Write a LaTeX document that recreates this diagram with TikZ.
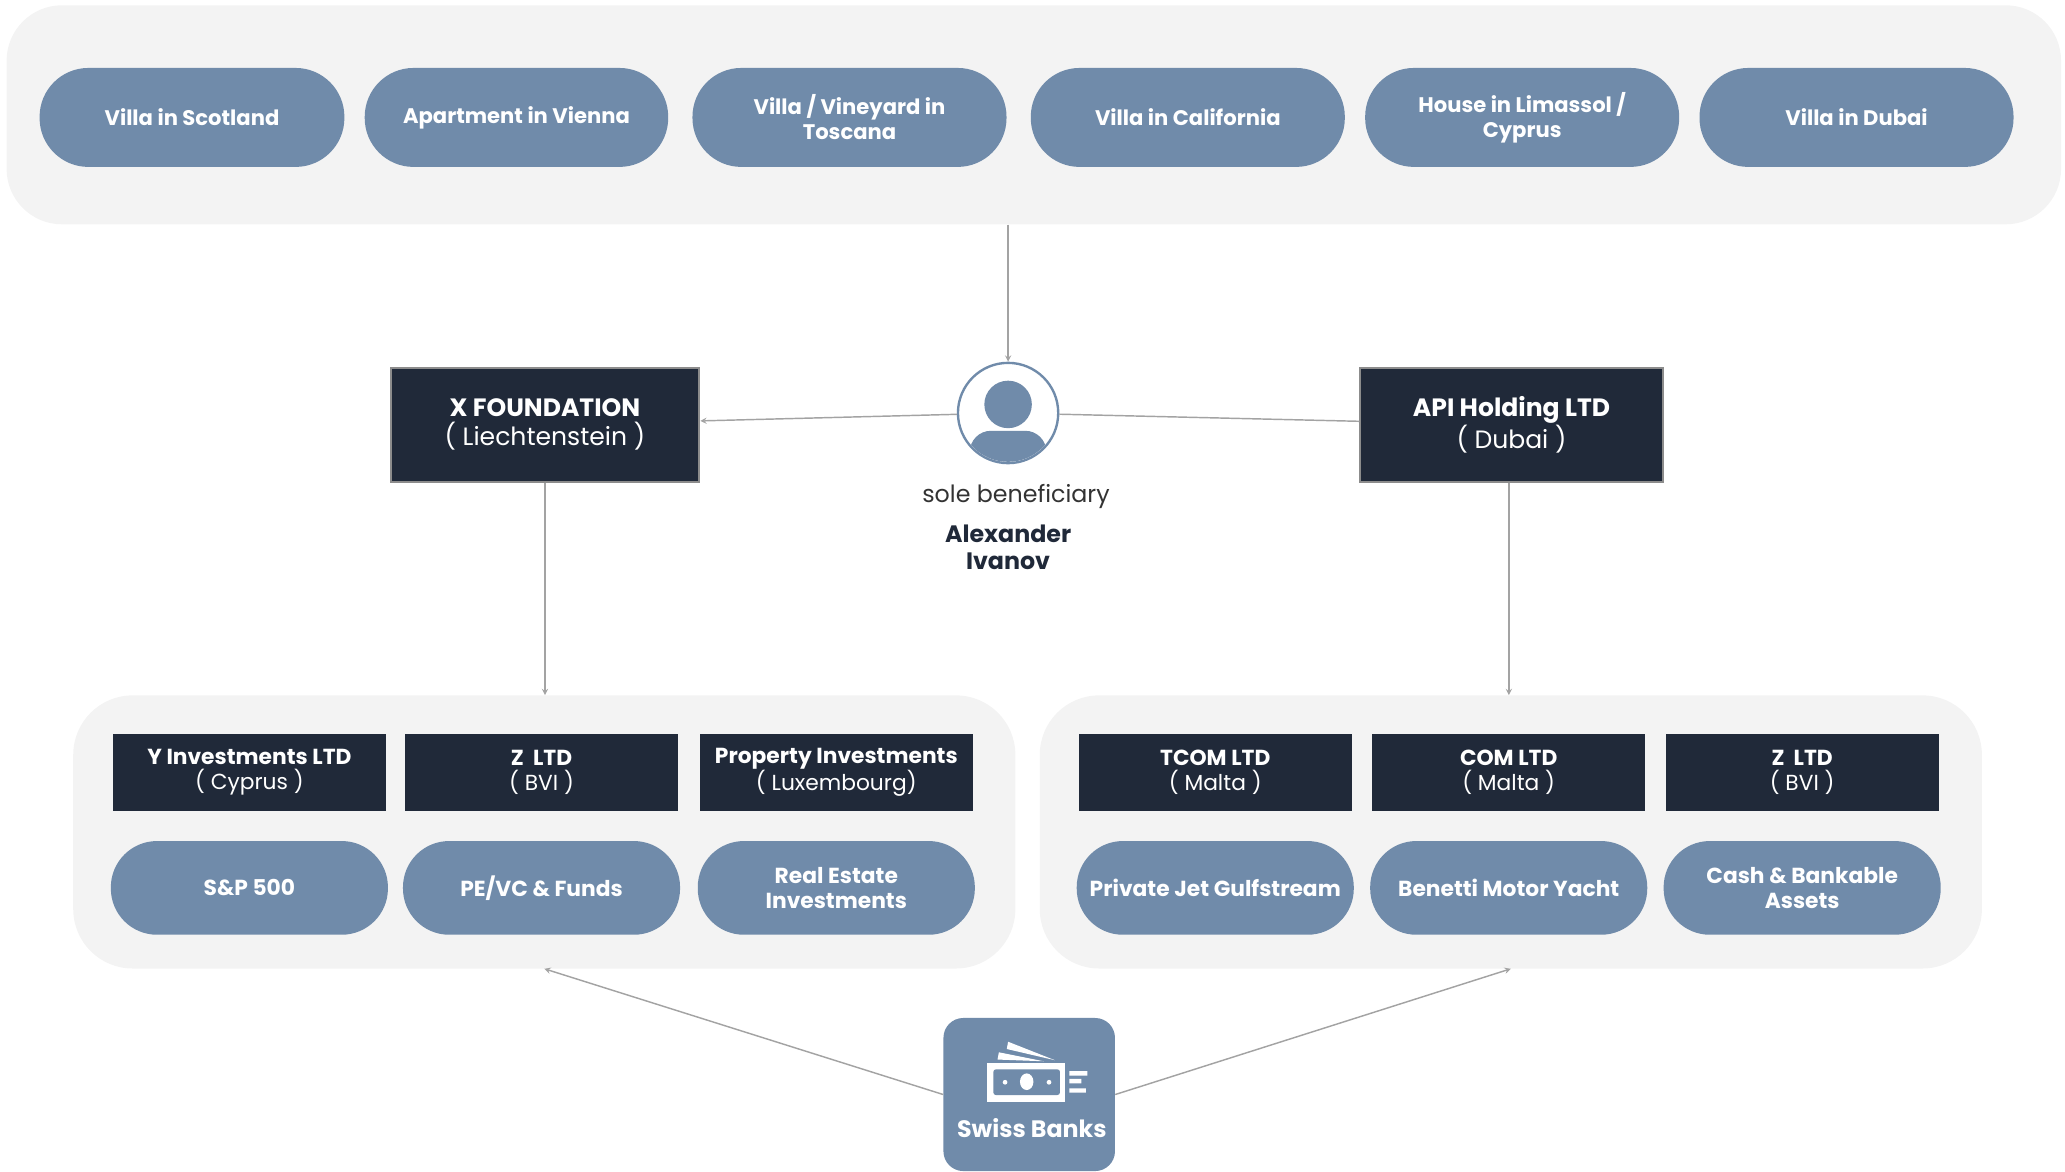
\documentclass[tikz,border=0pt]{standalone}
\usepackage{fontspec}
\setmainfont{Poppins}
\usepackage{tikz}
\usetikzlibrary{arrows,shapes,positioning}
\usepackage{xcolor}
\definecolor{ivslate}{RGB}{112,139,170}
\definecolor{ivnavy}{RGB}{32,41,57}
\definecolor{ivpanel}{RGB}{243,243,243}
\definecolor{ivline}{RGB}{163,163,163}
\definecolor{ivborder}{RGB}{140,140,140}
\definecolor{ivtext}{RGB}{51,51,51}
\tikzstyle{group} = [rectangle, rounded corners=42pt, fill=ivpanel, inner sep=0pt]
\tikzstyle{asset} = [rectangle, rounded corners=35pt, fill=ivslate, text=white, align=center, inner sep=0pt, minimum width=210pt, minimum height=71pt, font=\fontsize{16.5}{19}\selectfont\bfseries]
\tikzstyle{estate} = [asset, rounded corners=37pt, minimum height=75pt, font=\fontsize{16}{19}\selectfont\bfseries]
\tikzstyle{company} = [rectangle, fill=ivnavy, text=white, align=center, inner sep=0pt, minimum width=207pt, minimum height=59pt, font=\fontsize{16.5}{19}\selectfont]
\tikzstyle{holding} = [rectangle, fill=ivnavy, draw=ivborder, line width=1.5pt, text=white, align=center, inner sep=0pt, minimum height=86pt, font=\fontsize{19}{22}\selectfont]
\tikzstyle{arrow} = [line width=1.1pt, ->, >=stealth, color=ivline]
\tikzstyle{link} = [line width=1.1pt, color=ivline]

\begin{document}
\begin{tikzpicture}[x=1pt, y=-1pt]
\useasboundingbox (0,0) rectangle (1565,887.5);

% Property group
\node (estates) [group, minimum width=1557pt, minimum height=166pt] at (783.5,87) {};
\node (scotland) [estate, minimum width=231pt] at (145.5,89) {Villa in Scotland};
\node (vienna) [estate, minimum width=230pt, right=15pt of scotland] {Apartment in Vienna};
\node (toscana) [estate, minimum width=238pt, right=18pt of vienna] {Villa / Vineyard in\\Toscana};
\node (california) [estate, minimum width=238pt, right=18pt of toscana] {Villa in California};
\node (limassol) [estate, minimum width=238pt, right=15pt of california] {House in Limassol /\\Cyprus};
\node (dubai) [estate, minimum width=238pt, right=15pt of limassol] {Villa in Dubai};

% Central node
\node (owner) [circle, draw=ivslate, line width=1.8pt, fill=white, minimum size=76pt, inner sep=0pt] at (764,313) {};
\begin{scope}
\clip (owner.center) circle (37);
\fill[ivslate, rounded corners=16pt] (735,326.5) rectangle (793,380);
\end{scope}
\fill[ivslate] (764,306.5) circle (18);
\node (role) [text=ivtext, font=\fontsize{18}{21}\selectfont] at (770,376) {sole beneficiary};
\node (name) [text=ivnavy, align=center, font=\fontsize{18}{20.5}\selectfont\bfseries] at (764,414.5) {Alexander\\Ivanov};

% Holding nodes
\node (xfound) [holding, minimum width=234pt] at (413,322) {\textbf{X FOUNDATION}\\( Liechtenstein )};
\node (apihold) [holding, minimum width=229pt] at (1145.5,322) {\textbf{API Holding LTD}\\( Dubai )};

% Left group
\node (leftgrp) [group, rounded corners=45pt, minimum width=714pt, minimum height=207pt] at (412.5,630.5) {};
\node (yinv) [company] at (189,585.5) {\textbf{Y Investments LTD}\\( Cyprus )};
\node (zbvi) [company, right=14pt of yinv] {\textbf{Z~ LTD}\\( BVI )};
\node (propinv) [company, right=16pt of zbvi] {\textbf{Property Investments}\\( Luxembourg)};
\node (sp) [asset, below=22pt of yinv] {S\&P 500};
\node (pevc) [asset, below=22pt of zbvi] {PE/VC \& Funds};
\node (realest) [asset, below=22pt of propinv] {Real Estate\\Investments};

% Right group
\node (rightgrp) [group, rounded corners=45pt, minimum width=714pt, minimum height=207pt] at (1145,630.5) {};
\node (tcom) [company] at (921,585.5) {\textbf{TCOM LTD}\\( Malta )};
\node (com) [company, right=15pt of tcom] {\textbf{COM LTD}\\( Malta )};
\node (zltd) [company, right=15pt of com] {\textbf{Z~ LTD}\\( BVI )};
\node (jet) [asset, below=22pt of tcom] {Private Jet Gulfstream};
\node (yacht) [asset, below=22pt of com] {Benetti Motor Yacht};
\node (cash) [asset, below=22pt of zltd] {Cash \& Bankable\\Assets};

% Bank node
\node (swiss) [rectangle, rounded corners=15pt, fill=ivslate, minimum width=130pt, minimum height=116pt] at (780,829.5) {};
\fill[white] (764,789.5) -- (799.5,803.5) -- (763,795) -- cycle;
\fill[white] (757,797.5) -- (791,804.3) -- (756,803) -- cycle;
\fill[white] (748.3,805.9) rectangle (807.4,834.9);
\fill[ivslate, rounded corners=2pt] (752.8,810.4) rectangle (803.3,829.9);
\fill[white] (778.1,819.8) ellipse (5.1 and 6.3);
\fill[white] (761.7,820.2) circle (1.8) (795,820.2) circle (1.8);
\fill[white] (810.4,811.7) rectangle (824,815.2) (810.4,817.7) rectangle (819.6,821) (810.4,824.8) rectangle (823,828);
\node (swisslbl) [text=white, font=\fontsize{18}{21}\selectfont\bfseries] at (782,855) {Swiss Banks};

% Arrows
\draw[arrow] (estates.south -| owner) -- (owner);
\draw[arrow] (owner) -- (xfound);
\draw[link] (owner) -- (apihold);
\draw[arrow] (xfound.south) -- (xfound.south |- leftgrp.north);
\draw[arrow] ([xshift=-2pt]apihold.south) -- ([xshift=-2pt]apihold.south |- rightgrp.north);
\draw[arrow] (swiss.west) -- (leftgrp.south);
\draw[arrow] (swiss.east) -- (rightgrp.south);
\end{tikzpicture}
\end{document}
